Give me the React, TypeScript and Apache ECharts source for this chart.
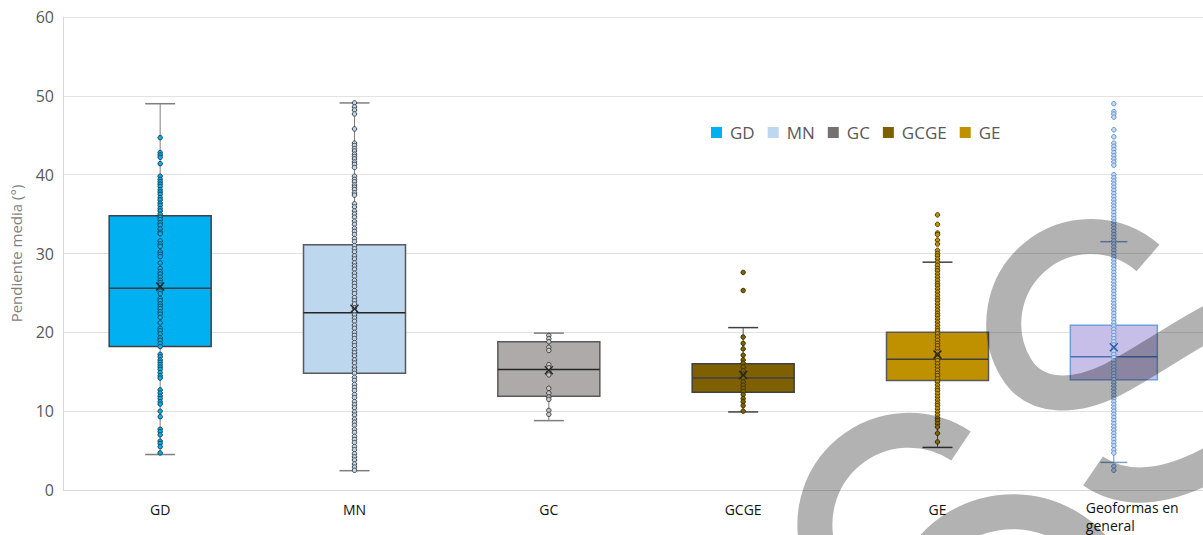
import React, { useEffect, useRef } from "react";
import * as echarts from "echarts";

// ---------- data ----------
const categories = ["GD", "MN", "GC", "GCGE", "GE", "Geoformas en general"];
const legendNames = ["GD", "MN", "GC", "GCGE", "GE"];

const whiskerMin = [4.5, 2.45, 8.8, 9.9, 5.4, 3.5];
const quartile1 = [18.2, 14.8, 11.9, 12.4, 13.9, 14.0];
const medians = [25.6, 22.5, 15.3, 14.2, 16.6, 16.9];
const quartile3 = [34.8, 31.1, 18.8, 16.0, 20.0, 20.9];
const whiskerMax = [49.0, 49.1, 19.9, 20.6, 28.9, 31.5];
const means = [25.8, 23.0, 15.2, 14.6, 17.2, 18.1];

const pointsGD = [44.7, 42.8, 42.5, 42.2, 41.4, 39.8, 39.4, 39.1, 38.8, 38.5, 38.1, 37.8, 37.5, 37.1, 36.8, 36.4, 36.1, 35.7, 35.4, 35.0, 34.6, 34.3, 33.9, 33.6, 33.1, 32.7, 32.5, 31.6, 31.2, 30.9, 30.2, 29.9, 29.6, 28.8, 28.1, 27.7, 27.4, 27.0, 26.6, 26.3, 26.0, 25.2, 24.9, 24.3, 24.0, 23.6, 23.3, 23.0, 22.6, 22.3, 21.9, 21.2, 20.5, 20.2, 19.8, 19.3, 19.0, 18.6, 18.2, 17.2, 16.9, 16.5, 16.2, 15.9, 15.6, 15.3, 14.9, 14.5, 14.2, 12.7, 12.3, 11.9, 11.6, 11.2, 10.9, 10.0, 9.3, 7.7, 7.4, 7.0, 6.2, 5.9, 5.5, 4.7];
const pointsMN = [49.1, 48.6, 48.2, 47.7, 45.8, 44.0, 43.7, 43.3, 43.0, 42.6, 42.3, 42.0, 41.6, 41.3, 40.9, 39.8, 39.4, 39.1, 38.7, 38.4, 38.1, 37.7, 37.4, 36.3, 35.9, 35.4, 35.0, 34.6, 34.1, 33.7, 33.2, 32.8, 32.4, 31.9, 31.5, 31.0, 30.6, 30.2, 29.7, 29.3, 28.8, 28.4, 28.0, 27.5, 27.1, 26.6, 26.2, 25.8, 25.3, 24.9, 24.4, 24.0, 23.6, 23.1, 22.7, 22.2, 21.8, 21.4, 20.9, 20.5, 20.0, 19.6, 19.2, 18.7, 18.3, 17.8, 17.4, 17.0, 16.5, 16.1, 15.6, 15.2, 14.8, 14.3, 13.9, 13.4, 13.0, 12.6, 12.1, 11.7, 11.2, 10.8, 10.4, 9.9, 9.5, 9.0, 8.6, 8.2, 7.7, 7.3, 6.8, 6.4, 6.0, 5.5, 5.1, 4.6, 4.2, 3.8, 3.3, 2.9, 2.5];
const pointsGC = [19.6, 19.2, 18.8, 18.1, 17.7, 15.9, 15.5, 15.0, 14.6, 12.9, 12.3, 11.8, 11.5, 10.1, 9.6];
const pointsGCGE = [27.6, 25.3, 19.4, 18.6, 17.9, 17.1, 16.5, 16.1, 15.6, 15.1, 14.7, 14.2, 13.7, 13.3, 12.9, 12.5, 12.1, 11.6, 11.2, 10.7, 10.0];
const pointsGE = [34.9, 33.7, 32.6, 32.4, 31.7, 31.2, 30.4, 30.0, 29.7, 29.3, 28.9, 28.5, 28.1, 27.8, 27.4, 27.0, 26.6, 26.2, 25.9, 25.5, 25.1, 24.7, 24.3, 24.0, 23.6, 23.2, 22.8, 22.4, 22.1, 21.7, 21.3, 20.9, 20.5, 20.2, 19.8, 19.4, 19.0, 18.6, 18.3, 17.9, 17.5, 17.1, 16.7, 16.4, 16.0, 15.6, 15.2, 14.8, 14.5, 14.1, 13.7, 13.3, 12.9, 12.6, 12.2, 11.8, 11.4, 11.0, 10.7, 10.3, 9.9, 9.5, 9.1, 8.8, 8.4, 8.0, 7.2, 6.1];
const pointsGeo = [49.0, 48.0, 47.7, 47.3, 45.7, 44.8, 44.0, 43.6, 43.2, 42.8, 42.4, 42.0, 41.6, 41.2, 40.0, 39.6, 39.2, 38.8, 38.4, 38.0, 37.6, 37.2, 36.8, 36.4, 36.0, 35.6, 35.2, 34.8, 34.4, 34.0, 33.6, 33.2, 32.8, 32.4, 32.0, 31.6, 31.2, 30.8, 30.4, 30.0, 29.6, 29.2, 28.8, 28.4, 28.0, 27.6, 27.2, 26.8, 26.4, 26.0, 25.6, 25.2, 24.8, 24.4, 24.0, 23.6, 23.2, 22.8, 22.4, 22.0, 21.6, 21.2, 20.8, 20.4, 20.0, 19.6, 19.2, 18.8, 18.4, 18.0, 17.6, 17.2, 16.8, 16.4, 16.0, 15.6, 15.2, 14.8, 14.4, 14.0, 13.6, 13.2, 12.8, 12.4, 12.0, 11.6, 11.2, 10.8, 10.4, 10.0, 9.6, 9.2, 8.8, 8.4, 8.0, 7.6, 7.2, 6.8, 6.4, 6.0, 5.6, 5.1, 4.7, 3.0, 2.5];
const pointSets = [pointsGD, pointsMN, pointsGC, pointsGCGE, pointsGE, pointsGeo];

const yTicks = [0, 10, 20, 30, 40, 50, 60];

// ---------- styles ----------
const boxFill = ["#00b0f0", "#bdd7ee", "#aeaaaa", "#7f6000", "#bf9000", "#c7bfe7"];
const boxBorder = ["#404040", "#595959", "#595959", "#404040", "#595959", "#6f9fdc"];
const medianColor = ["#404040", "#262626", "#262626", "#404040", "#404040", "#4a72b5"];
const whiskerColor = ["#7f7f7f", "#7f7f7f", "#7f7f7f", "#595959", "#595959", "#6f8fc6"];
const capColor = ["#7f7f7f", "#7f7f7f", "#7f7f7f", "#404040", "#404040", "#7f9fd0"];
const pointFill = ["#00b0f0", "#bdd7ee", "#c9c9c9", "#7f6000", "#bf9000", "#c5d9f1"];
const pointStroke = ["#1f3a4a", "#333333", "#333333", "#3a2e00", "#3a2e00", "#5b8bd0"];
const meanColor = ["#262626", "#262626", "#262626", "#262626", "#262626", "#2e5aa8"];
const legendColors = ["#00b0f0", "#bdd7ee", "#757171", "#7f6000", "#bf9000"];
const boxWidthPx = [102, 102, 102, 102, 102, 87];
const capWidthPx = [30, 30, 30, 30, 30, 27];
const xShiftPx = [0, 0, 0, 0, 0, -18];

const WATERMARK_D =
  "M 1148 258 A 87 87 0 0 0 1016 368 C 1035 400 1075 398 1112 380 C 1160 355 1200 322 1240 310 " +
  "M 961 446 A 94 94 0 0 0 822 560 " +
  "M 923 560 A 108 108 0 0 1 1103 560 " +
  "M 1093 471 Q 1140 503 1215 462";

let registered = false;
function ensureShapes() {
  if (registered) return;
  echarts.graphic.registerShape("wmark", echarts.graphic.extendPath(WATERMARK_D, {}) as any);
  registered = true;
}

export default function App() {
  const ref = useRef<HTMLDivElement>(null);

  useEffect(() => {
    if (!ref.current) return;
    ensureShapes();
    const chart = echarts.init(ref.current, null, { renderer: "svg" });

    const boxData = categories.map((_, i) => [i, whiskerMin[i], quartile1[i], medians[i], quartile3[i], whiskerMax[i]]);
    const meanData = categories.map((_, i) => [i, means[i]]);

    const scatterSeries = pointSets.map((pts, i) => ({
      type: "scatter",
      name: categories[i],
      z: 3,
      symbol: "circle",
      symbolSize: 4.5,
      symbolOffset: [xShiftPx[i], 0],
      itemStyle: { color: pointFill[i], borderColor: pointStroke[i], borderWidth: 0.9, opacity: 1 },
      emphasis: { disabled: true },
      data: pts.map((v) => [i, v]),
    }));

    const GEO = categories[5];

    const option: any = {
      animation: false,
      backgroundColor: "#ffffff",
      grid: { left: 63, right: -26, top: 17, bottom: 45, containLabel: false, outerBoundsMode: "none" },
      legend: {
        data: legendNames.map((n, i) => ({ name: n, itemStyle: { color: legendColors[i], borderWidth: 0 } })),
        left: 706,
        top: 119,
        icon: "rect",
        itemWidth: 11,
        itemHeight: 11,
        itemGap: 13,
        selectedMode: false,
        itemStyle: { borderWidth: 0 },
        textStyle: { fontSize: 17, color: "#595959", fontFamily: "Open Sans", padding: [0, 0, 0, 3] },
      },
      xAxis: {
        type: "category",
        data: categories,
        axisTick: { show: false },
        axisLine: { show: true, lineStyle: { color: "#d9d9d9", width: 1 } },
        splitLine: { show: false },
        axisLabel: {
          margin: 8,
          fontSize: 14,
          color: "#111111",
          fontFamily: "Open Sans",
          interval: 0,
          formatter: (v: string) => (v === GEO ? "{g|Geoformas en}\n{g|general}" : "{p|" + v + "}"),
          rich: {
            g: { width: 92, align: "left", fontSize: 14, lineHeight: 18, color: "#111111", fontFamily: "Open Sans" },
            p: { fontSize: 14, lineHeight: 18, padding: [4, 0, 0, 0], color: "#111111", fontFamily: "Open Sans" },
          },
        },
      },
      yAxis: {
        type: "value",
        min: yTicks[0],
        max: yTicks[yTicks.length - 1],
        interval: yTicks[1] - yTicks[0],
        name: "Pendiente media (°)",
        nameLocation: "middle",
        nameGap: 40,
        nameRotate: 90,
        nameTextStyle: { fontSize: 15, color: "#7f7f7f", fontFamily: "Open Sans" },
        axisLine: { show: true, lineStyle: { color: "#d9d9d9", width: 1 } },
        axisTick: { show: false },
        axisLabel: { fontSize: 16, color: "#595959", margin: 9, fontFamily: "Open Sans" },
        splitLine: { show: true, lineStyle: { color: "#e2e2e2", width: 1 } },
      },
      series: [
        {
          type: "custom",
          name: "boxes",
          z: 2,
          encode: { x: 0, y: [1, 2, 3, 4, 5] },
          data: boxData,
          renderItem: (params: any, api: any) => {
            const i = api.value(0);
            const pMin = api.coord([i, api.value(1)]);
            const pQ1 = api.coord([i, api.value(2)]);
            const pMed = api.coord([i, api.value(3)]);
            const pQ3 = api.coord([i, api.value(4)]);
            const pMax = api.coord([i, api.value(5)]);
            const cx = pMin[0] + xShiftPx[i];
            const hw = boxWidthPx[i] / 2;
            const cw = capWidthPx[i] / 2;
            return {
              type: "group",
              children: [
                { type: "line", shape: { x1: cx, y1: pMax[1], x2: cx, y2: pQ3[1] }, style: { stroke: whiskerColor[i], lineWidth: 1 } },
                { type: "line", shape: { x1: cx, y1: pQ1[1], x2: cx, y2: pMin[1] }, style: { stroke: whiskerColor[i], lineWidth: 1 } },
                { type: "line", shape: { x1: cx - cw, y1: pMax[1], x2: cx + cw, y2: pMax[1] }, style: { stroke: capColor[i], lineWidth: 1.5 } },
                { type: "line", shape: { x1: cx - cw, y1: pMin[1], x2: cx + cw, y2: pMin[1] }, style: { stroke: capColor[i], lineWidth: 1.5 } },
                {
                  type: "rect",
                  shape: { x: cx - hw, y: pQ3[1], width: boxWidthPx[i], height: pQ1[1] - pQ3[1] },
                  style: { fill: boxFill[i], stroke: boxBorder[i], lineWidth: 1.5 },
                },
                { type: "line", shape: { x1: cx - hw, y1: pMed[1], x2: cx + hw, y2: pMed[1] }, style: { stroke: medianColor[i], lineWidth: 1.5 } },
              ],
            };
          },
        },
        ...scatterSeries,
        {
          type: "custom",
          name: "means",
          z: 4,
          encode: { x: 0, y: 1 },
          data: meanData,
          renderItem: (params: any, api: any) => {
            const i = api.value(0);
            const p = api.coord([i, api.value(1)]);
            const cx = p[0] + xShiftPx[i];
            const s = 4;
            return {
              type: "group",
              children: [
                { type: "line", shape: { x1: cx - s, y1: p[1] - s, x2: cx + s, y2: p[1] + s }, style: { stroke: meanColor[i], lineWidth: 1.4 } },
                { type: "line", shape: { x1: cx - s, y1: p[1] + s, x2: cx + s, y2: p[1] - s }, style: { stroke: meanColor[i], lineWidth: 1.4 } },
              ],
            };
          },
        },
      ],
      graphic: {
        elements: [
          {
            type: "wmark",
            x: 0,
            y: 0,
            z: 100,
            silent: true,
            style: { fill: "none", stroke: "rgba(0,0,0,0.3)", lineWidth: 35 },
          },
        ],
      },
    };

    chart.setOption(option);
    return () => chart.dispose();
  }, []);

  return <div ref={ref} style={{ position: "fixed", left: 0, top: 0, width: 1203, height: 535 }} />;
}
